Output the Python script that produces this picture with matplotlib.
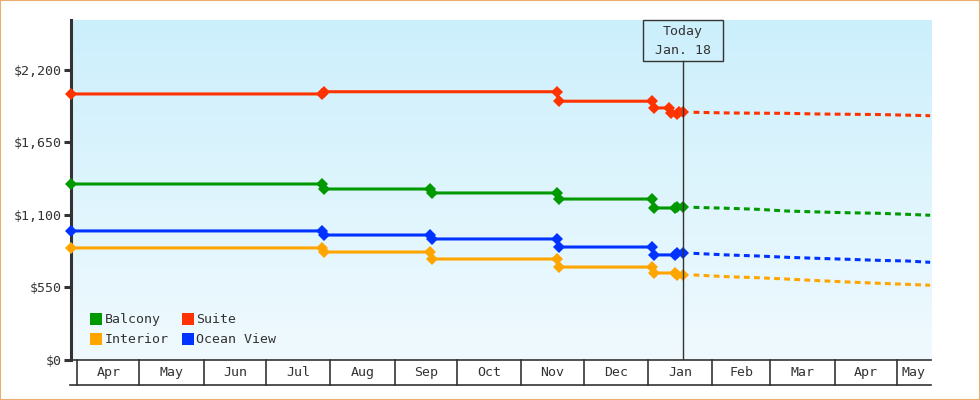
import matplotlib
matplotlib.use('Agg')
import matplotlib.pyplot as plt
import matplotlib.dates as mdates
import matplotlib.transforms as mtransforms
from matplotlib.colors import LinearSegmentedColormap
from matplotlib.patches import Rectangle
from matplotlib.lines import Line2D
import numpy as np
import pandas as pd

# price history (points only where the fare changed)
suite_dates = ['2013-03-29', '2013-07-28', '2013-07-29', '2013-11-18', '2013-11-19',
               '2014-01-03', '2014-01-04', '2014-01-11', '2014-01-12', '2014-01-15',
               '2014-01-16', '2014-01-18']
suite_prices = [2018, 2018, 2035, 2035, 1963, 1963, 1912, 1912, 1871, 1868, 1879, 1879]

cabin_dates = ['2013-03-29', '2013-07-28', '2013-07-29', '2013-09-18', '2013-09-19',
               '2013-11-18', '2013-11-19', '2014-01-03', '2014-01-04', '2014-01-14',
               '2014-01-15', '2014-01-18']
balcony_prices = [1335, 1335, 1297, 1297, 1267, 1267, 1221, 1221, 1153, 1153, 1157, 1157]
ocean_prices = [979, 979, 948, 948, 918, 918, 857, 857, 797, 797, 808, 808]
interior_prices = [850, 850, 819, 819, 766, 766, 705, 705, 660, 660, 643, 643]

# forecast after today
forecast_dates = ['2014-01-23', '2014-02-08', '2014-02-23', '2014-03-09', '2014-03-24',
                  '2014-04-07', '2014-04-22', '2014-05-06', '2014-05-17']
suite_fc = [1879, 1874, 1872, 1871, 1866, 1864, 1862, 1857, 1853]
balcony_fc = [1158, 1151, 1143, 1130, 1123, 1117, 1113, 1105, 1098]
ocean_fc = [809, 797, 789, 779, 771, 764, 756, 751, 741]
interior_fc = [645, 632, 624, 614, 602, 592, 582, 574, 567]

months = ['Apr', 'May', 'Jun', 'Jul', 'Aug', 'Sep', 'Oct', 'Nov', 'Dec',
          'Jan', 'Feb', 'Mar', 'Apr', 'May']
month_starts = pd.date_range('2013-04-01', '2014-05-01', freq='MS')
y_ticks = [0, 550, 1100, 1650, 2200]
today = '2014-01-18'

series = [
    ('Balcony', '#009900', cabin_dates, balcony_prices, balcony_fc),
    ('Interior', '#FFA500', cabin_dates, interior_prices, interior_fc),
    ('Suite', '#FF3300', suite_dates, suite_prices, suite_fc),
    ('Ocean View', '#0033FF', cabin_dates, ocean_prices, ocean_fc),
]

plt.rcParams['font.family'] = ['DejaVu Sans Mono']
ink = '#333333'

fig = plt.figure(figsize=(9.8, 4), dpi=100)
fig.add_artist(Rectangle((0, 0), 1, 1, transform=fig.transFigure, fill=False,
                         edgecolor='#E9AD6C', lw=1.5))
ax = fig.add_axes([71 / 980, 40 / 400, 860 / 980, 340 / 400])

# background gradient
bg = LinearSegmentedColormap.from_list('bg', ['#CCEFFC', '#F0FAFE'])
ax.imshow(np.linspace(0, 1, 256).reshape(-1, 1), cmap=bg, extent=[0, 1, 0, 1],
          transform=ax.transAxes, aspect='auto', zorder=0)

for name, color, d, p, fc in series:
    ax.plot(pd.to_datetime(d), p, color=color, lw=2.2, marker='D', markersize=6.5,
            markeredgewidth=0, zorder=3, clip_on=False)
    ax.plot(pd.to_datetime(forecast_dates), fc, color=color, lw=2.2,
            linestyle=(0, (1.9, 1.4)), dash_capstyle='butt', zorder=3, clip_on=False)

x0 = pd.Timestamp('2013-03-29')
x1 = pd.Timestamp('2014-05-17 10:00')
ax.set_xlim(x0, x1)
ax.set_ylim(0, 2579)

for s in ['top', 'right']:
    ax.spines[s].set_visible(False)
ax.spines['left'].set_linewidth(2.2)
ax.spines['left'].set_color(ink)
ax.spines['bottom'].set_linewidth(1.2)
ax.spines['bottom'].set_color(ink)

ax.set_yticks(y_ticks)
ax.set_yticklabels(['${:,}'.format(v) for v in y_ticks])
ax.tick_params(axis='y', length=5, width=2.2, color=ink, labelcolor=ink,
               labelsize=9.5, pad=2)
ax.set_xticks([])

# month boxes below the axis
trans = mtransforms.blended_transform_factory(ax.transData, ax.transAxes)
box_h = 25 / 340
edges = list(month_starts) + [x1]
for i, m in enumerate(months):
    xs = mdates.date2num(edges[i])
    ax.plot([xs, xs], [0, -box_h], color=ink, lw=1.2, transform=trans, clip_on=False)
    mid = (mdates.date2num(edges[i]) + mdates.date2num(edges[i + 1])) / 2
    ax.text(mid, -box_h / 2, m, transform=trans, ha='center', va='center',
            fontsize=9.5, color=ink)
ax.plot([-0.001, 1], [-box_h, -box_h], color=ink, lw=1.2, transform=ax.transAxes,
        clip_on=False)

# today marker
t = mdates.date2num(pd.Timestamp(today))
box_bottom = 1 - 40.7 / 340
ax.add_patch(Rectangle((t - 19.3, box_bottom), 38.6, 1 - box_bottom, transform=trans,
                       fill=False, edgecolor=ink, lw=1, zorder=4, clip_on=False))
ax.plot([t, t], [0, box_bottom], color=ink, lw=1, transform=trans, zorder=4)
ax.text(t, (360 - 32) / 340, 'Today', transform=trans, ha='center', va='center',
        fontsize=9.5, color=ink)
ax.text(t, (360 - 50) / 340, 'Jan. 18', transform=trans, ha='center', va='center',
        fontsize=9.5, color=ink)

handles = [Line2D([], [], marker='s', linestyle='none', markersize=8,
                  markeredgewidth=0, color=c) for _, c, _, _, _ in series]
labels = [n for n, _, _, _, _ in series]
leg = ax.legend(handles, labels, ncol=2, loc='lower left', bbox_to_anchor=(0.022, 0.04),
                frameon=False, handlelength=0.9, handletextpad=0.2, columnspacing=1.0,
                labelspacing=0.55, fontsize=9.5, borderaxespad=0, borderpad=0)
for txt in leg.get_texts():
    txt.set_color(ink)

plt.savefig('out.png', dpi=100)
